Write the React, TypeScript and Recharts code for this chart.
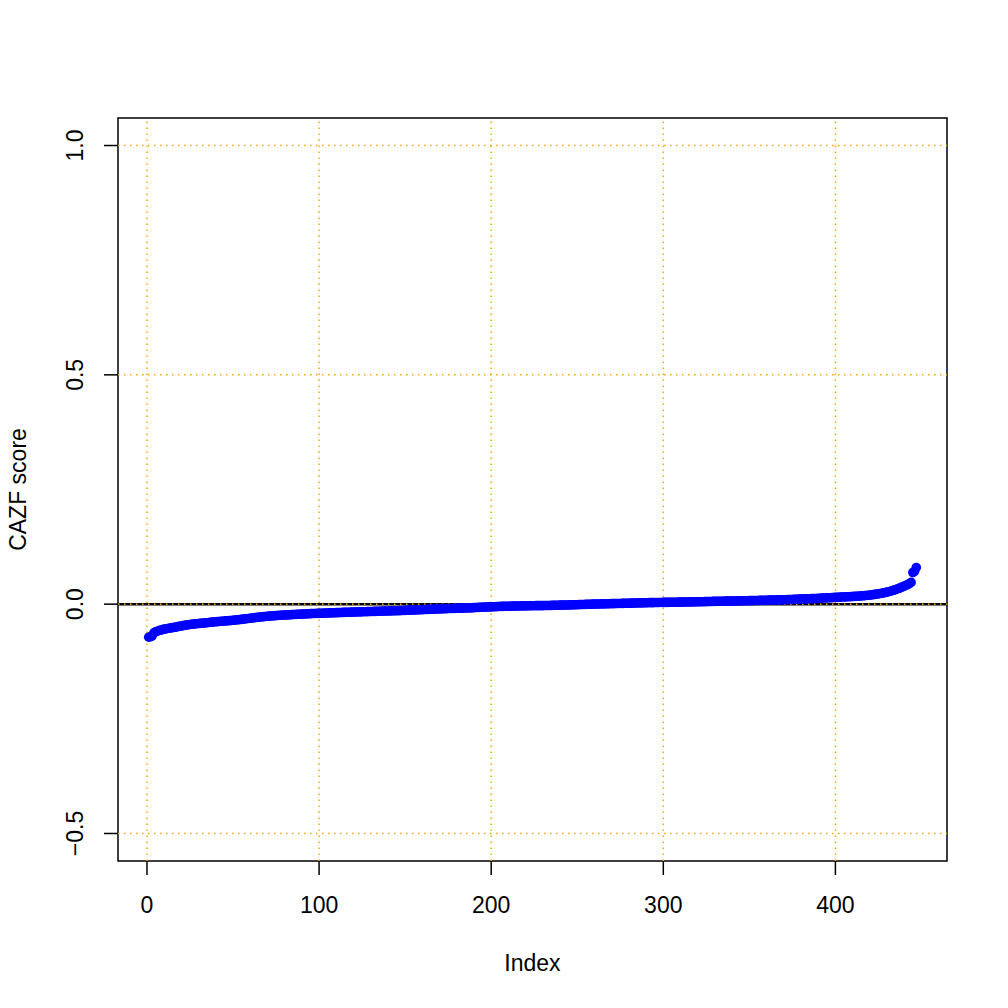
import React from 'react';
import { ScatterChart, Scatter, XAxis, YAxis, ReferenceLine, ReferenceArea } from 'recharts';

// CAZF scores, sorted ascending (Index 1..447)
const cazfScores: number[] = [
  -0.0720, -0.0712, -0.0690, -0.0625, -0.0605, -0.0590, -0.0575, -0.0565, -0.0555, -0.0545,
  -0.0538, -0.0530, -0.0524, -0.0518, -0.0512, -0.0505, -0.0498, -0.0490, -0.0482, -0.0475,
  -0.0468, -0.0462, -0.0455, -0.0449, -0.0443, -0.0438, -0.0434, -0.0430, -0.0426, -0.0422,
  -0.0418, -0.0415, -0.0411, -0.0408, -0.0404, -0.0400, -0.0396, -0.0392, -0.0388, -0.0384,
  -0.0380, -0.0377, -0.0374, -0.0371, -0.0368, -0.0365, -0.0362, -0.0359, -0.0355, -0.0352,
  -0.0348, -0.0344, -0.0340, -0.0336, -0.0332, -0.0327, -0.0322, -0.0317, -0.0312, -0.0307,
  -0.0302, -0.0297, -0.0292, -0.0288, -0.0284, -0.0280, -0.0276, -0.0272, -0.0268, -0.0264,
  -0.0261, -0.0258, -0.0255, -0.0252, -0.0249, -0.0246, -0.0243, -0.0241, -0.0239, -0.0237,
  -0.0235, -0.0233, -0.0231, -0.0229, -0.0227, -0.0225, -0.0223, -0.0221, -0.0219, -0.0217,
  -0.0215, -0.0213, -0.0211, -0.0209, -0.0207, -0.0205, -0.0203, -0.0202, -0.0201, -0.0200,
  -0.0199, -0.0197, -0.0196, -0.0194, -0.0193, -0.0191, -0.0190, -0.0188, -0.0187, -0.0185,
  -0.0184, -0.0183, -0.0182, -0.0180, -0.0179, -0.0178, -0.0176, -0.0175, -0.0174, -0.0173,
  -0.0171, -0.0170, -0.0169, -0.0168, -0.0166, -0.0165, -0.0164, -0.0163, -0.0161, -0.0160,
  -0.0159, -0.0158, -0.0157, -0.0155, -0.0154, -0.0153, -0.0152, -0.0150, -0.0149, -0.0148,
  -0.0147, -0.0146, -0.0145, -0.0144, -0.0143, -0.0142, -0.0140, -0.0139, -0.0137, -0.0135,
  -0.0133, -0.0131, -0.0130, -0.0128, -0.0127, -0.0125, -0.0124, -0.0122, -0.0121, -0.0119,
  -0.0118, -0.0116, -0.0115, -0.0113, -0.0111, -0.0110, -0.0108, -0.0107, -0.0105, -0.0104,
  -0.0102, -0.0101, -0.0099, -0.0098, -0.0096, -0.0095, -0.0093, -0.0092, -0.0091, -0.0090,
  -0.0089, -0.0088, -0.0086, -0.0085, -0.0084, -0.0083, -0.0081, -0.0080, -0.0078, -0.0076,
  -0.0074, -0.0072, -0.0070, -0.0068, -0.0066, -0.0065, -0.0063, -0.0062, -0.0060, -0.0059,
  -0.0057, -0.0056, -0.0054, -0.0052, -0.0050, -0.0049, -0.0048, -0.0047, -0.0046, -0.0045,
  -0.0044, -0.0043, -0.0042, -0.0041, -0.0041, -0.0040, -0.0039, -0.0038, -0.0038, -0.0037,
  -0.0036, -0.0036, -0.0035, -0.0034, -0.0034, -0.0033, -0.0033, -0.0032, -0.0031, -0.0031,
  -0.0030, -0.0030, -0.0029, -0.0028, -0.0027, -0.0026, -0.0025, -0.0024, -0.0023, -0.0022,
  -0.0021, -0.0020, -0.0019, -0.0018, -0.0017, -0.0016, -0.0015, -0.0014, -0.0013, -0.0012,
  -0.0011, -0.0009, -0.0008, -0.0006, -0.0005, -0.0003, -0.0002, -0.0001, 0.0000, 0.0001,
  0.0002, 0.0003, 0.0004, 0.0005, 0.0006, 0.0007, 0.0008, 0.0009, 0.0010, 0.0011,
  0.0012, 0.0013, 0.0014, 0.0015, 0.0016, 0.0017, 0.0018, 0.0019, 0.0020, 0.0021,
  0.0022, 0.0023, 0.0024, 0.0025, 0.0026, 0.0027, 0.0028, 0.0029, 0.0030, 0.0031,
  0.0032, 0.0033, 0.0033, 0.0034, 0.0035, 0.0035, 0.0036, 0.0037, 0.0037, 0.0038,
  0.0039, 0.0039, 0.0040, 0.0041, 0.0041, 0.0042, 0.0043, 0.0043, 0.0044, 0.0045,
  0.0045, 0.0046, 0.0047, 0.0047, 0.0048, 0.0049, 0.0049, 0.0050, 0.0051, 0.0051,
  0.0052, 0.0053, 0.0054, 0.0055, 0.0056, 0.0057, 0.0058, 0.0059, 0.0060, 0.0061,
  0.0062, 0.0063, 0.0063, 0.0064, 0.0065, 0.0066, 0.0066, 0.0067, 0.0068, 0.0069,
  0.0069, 0.0070, 0.0071, 0.0072, 0.0072, 0.0073, 0.0074, 0.0075, 0.0075, 0.0076,
  0.0077, 0.0078, 0.0079, 0.0080, 0.0081, 0.0082, 0.0083, 0.0084, 0.0085, 0.0086,
  0.0087, 0.0088, 0.0089, 0.0090, 0.0091, 0.0092, 0.0093, 0.0094, 0.0095, 0.0096,
  0.0097, 0.0099, 0.0100, 0.0102, 0.0103, 0.0105, 0.0106, 0.0108, 0.0109, 0.0111,
  0.0112, 0.0114, 0.0115, 0.0117, 0.0118, 0.0120, 0.0121, 0.0123, 0.0125, 0.0127,
  0.0129, 0.0131, 0.0133, 0.0135, 0.0137, 0.0139, 0.0141, 0.0143, 0.0145, 0.0147,
  0.0149, 0.0151, 0.0153, 0.0155, 0.0157, 0.0159, 0.0161, 0.0163, 0.0165, 0.0167,
  0.0169, 0.0171, 0.0174, 0.0177, 0.0180, 0.0183, 0.0186, 0.0190, 0.0194, 0.0198,
  0.0203, 0.0208, 0.0213, 0.0219, 0.0225, 0.0231, 0.0238, 0.0246, 0.0254, 0.0263,
  0.0272, 0.0282, 0.0293, 0.0305, 0.0318, 0.0332, 0.0346, 0.0361, 0.0377, 0.0393,
  0.0410, 0.0428, 0.0448, 0.0475, 0.0690, 0.0715, 0.0800,
];

const xTicks: number[] = [0, 100, 200, 300, 400];
const yTicks: number[] = [-0.5, 0, 0.5, 1.0];
const xDomain: [number, number] = [-16.84, 464.84];
const yDomain: [number, number] = [-0.56, 1.06];

const data = cazfScores.map((score, i) => ({ index: i + 1, score }));

const FONT = '"Liberation Sans", Arial, Helvetica, sans-serif';
const FS = 23;

const fmtY = (v: number) => v.toFixed(1).replace('-', '\u2212');

const XTick = (props: any) => {
  const { x, y, payload } = props;
  return (
    <text x={x} y={y + 38} textAnchor="middle" fontFamily={FONT} fontSize={FS} fill="#000">
      {String(payload.value)}
    </text>
  );
};

const YTick = (props: any) => {
  const { x, y, payload } = props;
  const bx = x - 21;
  return (
    <text x={bx} y={y} textAnchor="middle" fontFamily={FONT} fontSize={FS} fill="#000"
      transform={`rotate(-90, ${bx}, ${y})`}>
      {fmtY(payload.value)}
    </text>
  );
};

const XTitle = (props: any) => {
  const vb = props.viewBox;
  return (
    <text x={vb.x + vb.width / 2} y={vb.y + 110} textAnchor="middle" fontFamily={FONT} fontSize={FS} fill="#000">
      Index
    </text>
  );
};

const YTitle = (props: any) => {
  const vb = props.viewBox;
  const bx = vb.x + vb.width - 92;
  const cy = vb.y + vb.height / 2;
  return (
    <text x={bx} y={cy} textAnchor="middle" fontFamily={FONT} fontSize={FS} fill="#000"
      transform={`rotate(-90, ${bx}, ${cy})`}>
      CAZF score
    </text>
  );
};

const Dot = (props: any) => {
  const { cx, cy } = props;
  if (cx == null || cy == null) return null;
  return <circle cx={cx} cy={cy} r={4.8} fill="#0000FF" />;
};

export default function App() {
  return (
    <div style={{ position: 'absolute', left: 0, top: 0, width: 1008, height: 1008, background: '#fff' }}>
      <ScatterChart width={1008} height={1008} margin={{ top: 118, right: 61, bottom: 0, left: 0 }}>
        <XAxis
          type="number"
          dataKey="index"
          domain={xDomain}
          allowDataOverflow
          ticks={xTicks}
          interval={0}
          height={147}
          tickSize={14}
          tickMargin={0}
          axisLine={false}
          tickLine={{ stroke: '#000', strokeWidth: 1.5 }}
          tick={<XTick />}
          label={<XTitle />}
        />
        <YAxis
          type="number"
          dataKey="score"
          domain={yDomain}
          allowDataOverflow
          ticks={yTicks}
          interval={0}
          width={118}
          tickSize={14}
          tickMargin={0}
          axisLine={false}
          tickLine={{ stroke: '#000', strokeWidth: 1.5 }}
          tick={<YTick />}
          label={<YTitle />}
        />
        <ReferenceArea x1={xDomain[0]} x2={xDomain[1]} y1={yDomain[0]} y2={yDomain[1]}
          fill="none" fillOpacity={0} stroke="#000" strokeWidth={1.5} ifOverflow="visible" />
        <Scatter data={data} isAnimationActive={false} shape={<Dot />} />
        <ReferenceLine y={0} stroke="#000" strokeWidth={2.5} ifOverflow="visible" />
        {xTicks.map((t) => (
          <ReferenceLine key={'vx' + t} x={t} stroke="#FFA500" strokeWidth={1.5} strokeDasharray="1.5 4.5" />
        ))}
        {yTicks.map((t) => (
          <ReferenceLine key={'hy' + t} y={t} stroke="#FFA500" strokeWidth={1.5} strokeDasharray="1.5 4.5" />
        ))}
      </ScatterChart>
    </div>
  );
}
